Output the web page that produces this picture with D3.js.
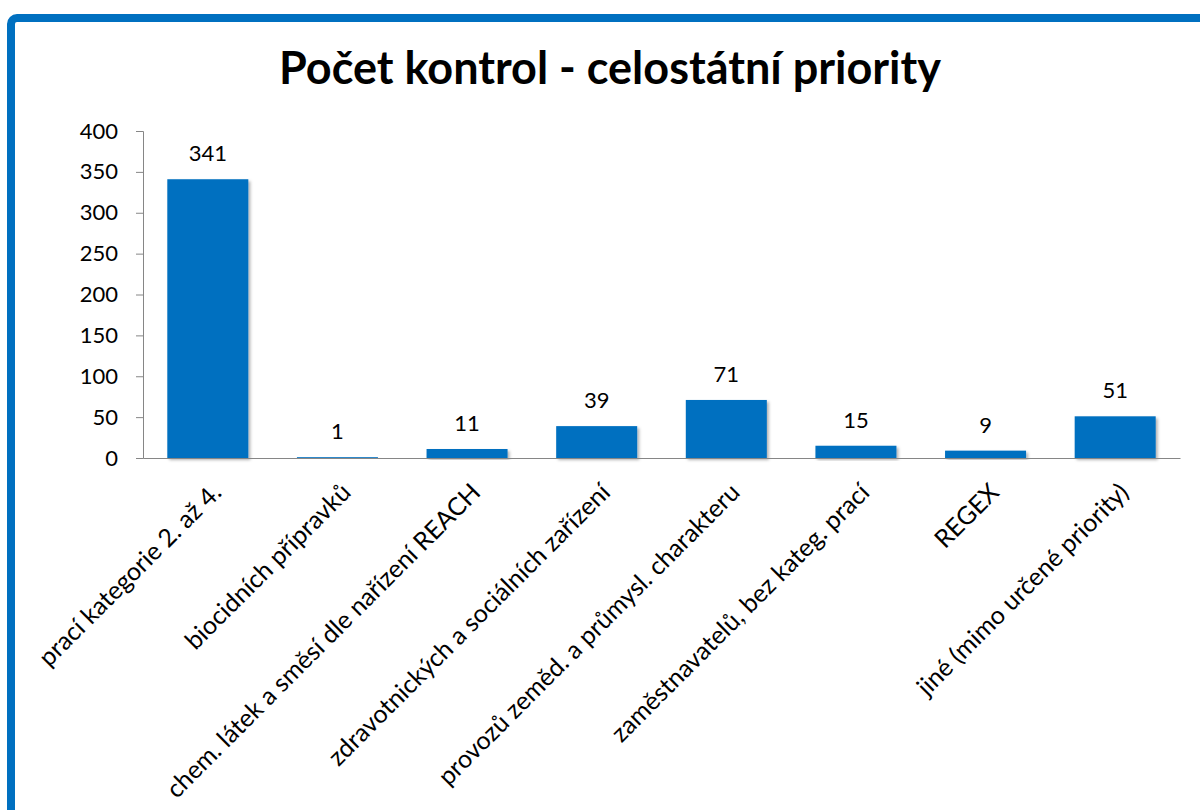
<!DOCTYPE html>
<html lang="cs">
<head>
  <meta charset="UTF-8">
  <title>Počet kontrol - celostátní priority</title>
  <script src="https://d3js.org/d3.v7.min.js"></script>
  <style>
    body { margin: 0; background: #fff; }
    svg { display: block; font-family: 'Lato', 'Open Sans', sans-serif; }
    .axis path, .axis line { stroke: #868686; }
    .axis text { fill: #000; font-size: 22px; font-family: 'Lato', sans-serif; }
    .x-axis text { font-size: 25px; }
    .val { font-size: 22px; fill: #000; text-anchor: middle; }
    .title { font-size: 45px; font-weight: bold; text-anchor: middle; }
  </style>
</head>
<body>
<svg width="1200" height="810"></svg>
<script>
  const categories = [
    'prací kategorie 2. až 4.',
    'biocidních přípravků',
    'chem. látek a směsí dle nařízení REACH',
    'zdravotnických a sociálních zařízení',
    'provozů zeměd. a průmysl. charakteru',
    'zaměstnavatelů, bez kateg. prací',
    'REGEX',
    'jiné (mimo určené priority)'
  ];
  const values = [341, 1, 11, 39, 71, 15, 9, 51];
  const yTicks = [0, 50, 100, 150, 200, 250, 300, 350, 400];
  const titleText = 'Počet kontrol - celostátní priority';

  const svg = d3.select('svg');
  const margin = { top: 131, left: 143, right: 20, bottom: 352 };
  const plotW = 1180 - margin.left;
  const plotH = 458 - margin.top;

  // soft shadow under bars
  const defs = svg.append('defs');
  defs.append('filter').attr('id', 'shadow')
    .attr('x', '-10%').attr('y', '-10%').attr('width', '130%').attr('height', '130%')
    .append('feDropShadow')
    .attr('dx', 2).attr('dy', 2).attr('stdDeviation', 1.5)
    .attr('flood-color', '#000').attr('flood-opacity', 0.3);

  // blue frame
  svg.append('rect')
    .attr('x', 11).attr('y', 18)
    .attr('width', 1220).attr('height', 830)
    .attr('rx', 6)
    .attr('fill', '#fff')
    .attr('stroke', '#0070C0')
    .attr('stroke-width', 8);

  svg.append('text')
    .attr('class', 'title')
    .attr('x', 610).attr('y', 84)
    .text(titleText);

  const g = svg.append('g')
    .attr('transform', `translate(${margin.left},${margin.top})`);

  const x = d3.scaleBand()
    .domain(categories)
    .range([0, plotW])
    .paddingInner(0.375)
    .paddingOuter(0.1875);

  const y = d3.scaleLinear()
    .domain([0, 400])
    .range([plotH, 0]);

  g.selectAll('.bar')
    .data(values)
    .enter().append('rect')
    .attr('class', 'bar')
    .attr('x', (d, i) => x(categories[i]))
    .attr('y', d => y(d))
    .attr('width', x.bandwidth())
    .attr('height', d => plotH - y(d))
    .attr('fill', '#0070C0')
    .attr('filter', 'url(#shadow)');

  g.selectAll('.val')
    .data(values)
    .enter().append('text')
    .attr('class', 'val')
    .attr('x', (d, i) => x(categories[i]) + x.bandwidth() / 2)
    .attr('y', d => y(d) - 18)
    .text(d => d);

  g.append('g')
    .attr('class', 'axis y-axis')
    .call(d3.axisLeft(y).tickValues(yTicks).tickSize(7).tickSizeOuter(7).tickPadding(18));

  const xAxis = g.append('g')
    .attr('class', 'axis x-axis')
    .attr('transform', `translate(0,${plotH})`)
    .call(d3.axisBottom(x).tickSize(0).tickSizeOuter(0));

  xAxis.selectAll('text')
    .attr('text-anchor', 'end')
    .attr('y', 0)
    .attr('dy', 0)
    .attr('transform', 'translate(15,36) rotate(-45)');
</script>
</body>
</html>
